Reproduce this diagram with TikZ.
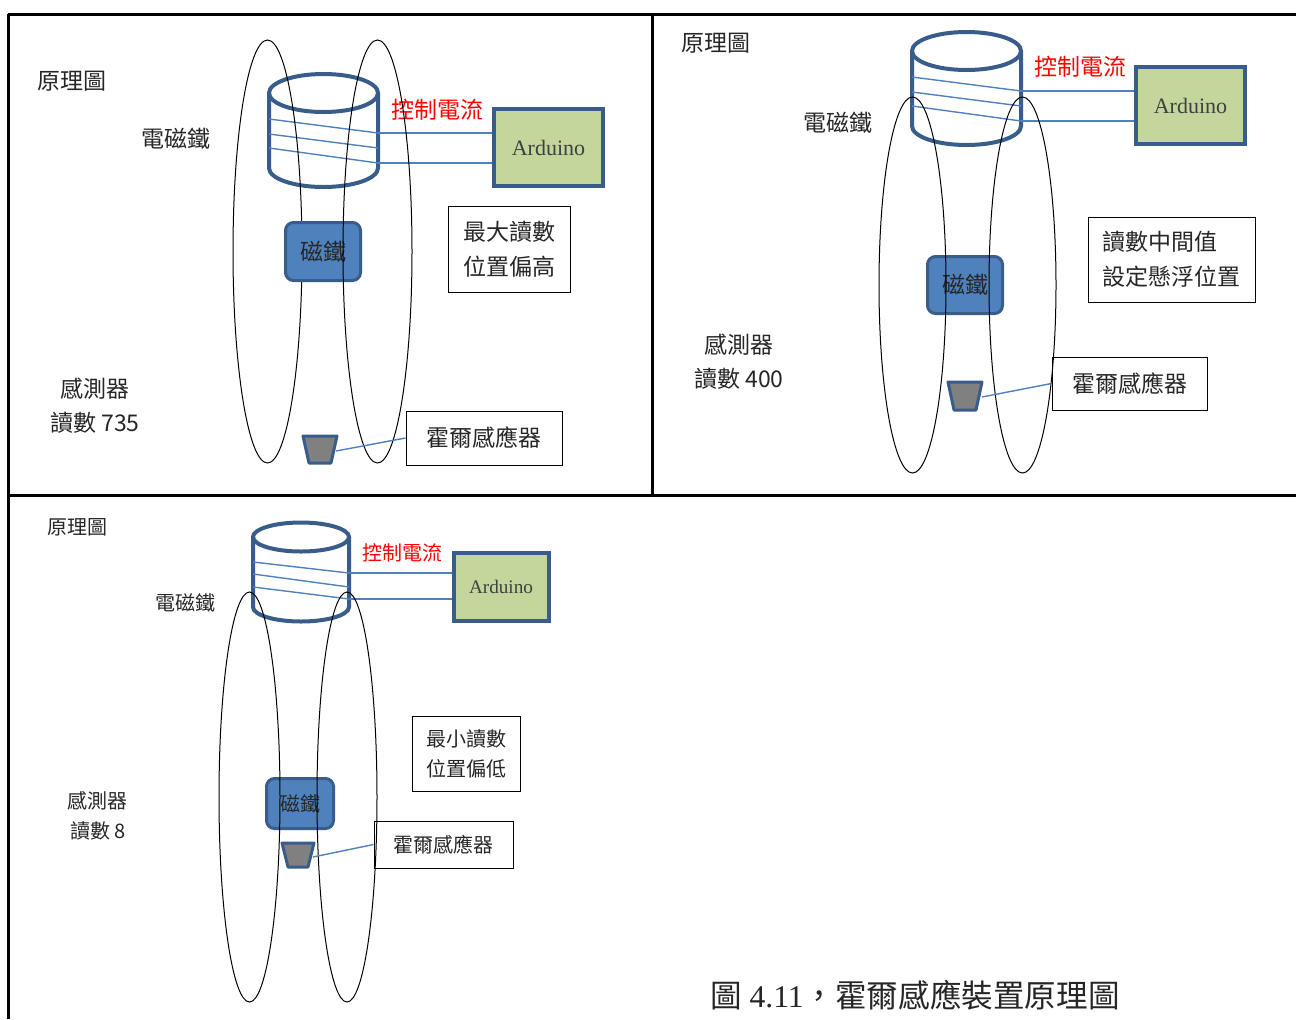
\documentclass[tikz,border=0pt]{standalone}
\usepackage{fontspec}
\setmainfont{Liberation Serif}
\newfontfamily\cjk{Noto Sans CJK TC}
\usepackage{tikz}
\definecolor{coilblue}{HTML}{4F81BD}
\definecolor{edgeblue}{HTML}{385D8A}
\definecolor{ardgreen}{HTML}{C3D69B}
\tikzstyle{frame} = [line width=1.5pt, draw=black]
\tikzstyle{field} = [line width=0.5pt, draw=black]
\tikzstyle{cyl} = [line width=2pt, draw=edgeblue]
\tikzstyle{coil} = [line width=0.7pt, draw=coilblue]
\tikzstyle{wire} = [line width=0.7pt, draw=coilblue]
\tikzstyle{ardbox} = [rectangle, draw=edgeblue, line width=2pt, fill=ardgreen, inner sep=0pt, text=black!75]
\tikzstyle{magnet} = [rectangle, rounded corners=4pt, draw=edgeblue, line width=1.5pt, fill=coilblue, inner sep=0pt, text=black!80]
\tikzstyle{infobox} = [rectangle, draw=black, line width=0.5pt, inner sep=0pt, align=left, text=black!80]
\tikzstyle{hallbox} = [rectangle, draw=black, line width=0.5pt, inner sep=0pt, text=black!80]
\tikzstyle{sensor} = [draw=edgeblue, line width=1.5pt, fill=gray, line join=round]
\tikzstyle{txtbig} = [font=\cjk\fontsize{11.5pt}{17.5pt}\selectfont, text=black!85]
\tikzstyle{txtsmall} = [font=\cjk\fontsize{10pt}{15pt}\selectfont, text=black!85]
\tikzstyle{ctrl} = [text=red]
\tikzstyle{ardbig} = [font=\fontsize{11pt}{13pt}\selectfont]
\tikzstyle{ardsmall} = [font=\fontsize{9.6pt}{12pt}\selectfont]

\begin{document}
\begin{tikzpicture}[x=0.5pt, y=0.5pt]
\useasboundingbox (0,0) rectangle (1296,-1019);

% page frame
\draw[frame] (8,-14) -- (1296,-14);
\draw[frame] (8,-14) -- (8,-1019);
\draw[frame] (652,-14) -- (652,-495);
\draw[frame] (8,-495) -- (1296,-495);

% ---------- max reading ----------
\node[txtbig] (title1) at (72,-81) {原理圖};
\node[txtbig] (em1) at (176,-139) {電磁鐵};
\draw[cyl] (323.5,-93) ellipse[x radius=54.5, y radius=19];
\draw[cyl] (269,-93) -- (269,-168) arc[start angle=180, end angle=360, x radius=54.5, y radius=19] -- (378,-93);
\draw[coil] (269,-119) -- (378,-133);
\draw[coil] (269,-134) -- (378,-148);
\draw[coil] (269,-148) -- (378,-163);
\coordinate (a1) at (378,-133);
\coordinate (b1) at (378,-163);
\node[ardbox, ardbig, minimum width=54.5pt, minimum height=38.5pt] (ard1) at (548.5,-147.5) {Arduino};
\draw[wire] (a1) -- (a1 -| ard1.west);
\draw[wire] (b1) -- (b1 -| ard1.west);
\node[txtbig, ctrl] (cur1) at (437,-110) {控制電流};
\draw[field] (267.5,-251.5) ellipse[x radius=34.5, y radius=211.5];
\node[magnet, txtbig, minimum width=37.5pt, minimum height=29pt] (mag1) at (323,-251.5) {磁鐵};
\draw[field] (377.5,-251.5) ellipse[x radius=34.5, y radius=211.5];
\node[infobox, txtbig, minimum width=61pt, minimum height=43pt] (info1) at (509,-249) {最大讀數\\位置偏高};
\node[txtbig] (sense1) at (95,-389) {感測器};
\node[txtbig] (read1) at (95,-423) {讀數 735};
\draw[sensor] (303,-436) -- (337,-436) -- (331,-463) -- (309,-463) -- cycle;
\coordinate (hs1) at (336,-451);
\node[hallbox, txtbig, minimum width=78pt, minimum height=27pt] (hall1) at (484,-438) {霍爾感應器\hspace{5pt}};
\draw[wire] (hs1) -- (hall1.west);

% ---------- middle reading ----------
\node[txtbig] (title2) at (716,-43) {原理圖};
\node[txtbig] (em2) at (838,-123) {電磁鐵};
\draw[cyl] (966.5,-51) ellipse[x radius=54.5, y radius=19];
\draw[cyl] (912,-51) -- (912,-126) arc[start angle=180, end angle=360, x radius=54.5, y radius=19] -- (1021,-51);
\draw[coil] (912,-77) -- (1021,-91);
\draw[coil] (912,-92) -- (1021,-106);
\draw[coil] (912,-106) -- (1021,-121);
\coordinate (a2) at (1021,-91);
\coordinate (b2) at (1021,-121);
\node[ardbox, ardbig, minimum width=54.5pt, minimum height=38.5pt] (ard2) at (1190.5,-105.5) {Arduino};
\draw[wire] (a2) -- (a2 -| ard2.west);
\draw[wire] (b2) -- (b2 -| ard2.west);
\node[txtbig, ctrl] (cur2) at (1080,-67) {控制電流};
\node[magnet, txtbig, minimum width=37.5pt, minimum height=28.5pt] (mag2) at (965,-285) {磁鐵};
\draw[field] (912.5,-285) ellipse[x radius=33.5, y radius=188];
\draw[field] (1022.5,-285) ellipse[x radius=33.5, y radius=188];
\node[infobox, txtbig, minimum width=83.5pt, minimum height=42.5pt] (info2) at (1171.5,-259.5) {讀數中間值\\設定懸浮位置};
\node[txtbig] (sense2) at (739,-345) {感測器};
\node[txtbig] (read2) at (739,-379) {讀數 400};
\draw[sensor] (948,-382) -- (982,-382) -- (976,-410) -- (954,-410) -- cycle;
\coordinate (hs2) at (982,-397);
\node[hallbox, txtbig, minimum width=77.5pt, minimum height=26.5pt] (hall2) at (1129.5,-383.5) {霍爾感應器\hspace{5pt}};
\draw[wire] (hs2) -- (hall2.west);

% ---------- min reading ----------
\node[txtsmall] (title3) at (77,-527) {原理圖};
\node[txtsmall] (em3) at (185,-603) {電磁鐵};
\draw[cyl] (301,-537) ellipse[x radius=48, y radius=14.5];
\draw[cyl] (253,-537) -- (253,-607) arc[start angle=180, end angle=360, x radius=48, y radius=14.5] -- (349,-537);
\draw[coil] (253,-562) -- (349,-573);
\draw[coil] (253,-574) -- (349,-587);
\draw[coil] (253,-587) -- (349,-599);
\coordinate (a3) at (349,-573);
\coordinate (b3) at (349,-599);
\node[ardbox, ardsmall, minimum width=47.5pt, minimum height=34pt] (ard3) at (501,-586.5) {Arduino};
\draw[wire] (a3) -- (a3 -| ard3.west);
\draw[wire] (b3) -- (b3 -| ard3.west);
\node[txtsmall, ctrl] (cur3) at (402,-553) {控制電流};
\node[magnet, txtsmall, minimum width=33.5pt, minimum height=25pt] (mag3) at (300,-803.5) {磁鐵};
\draw[field] (249.5,-797) ellipse[x radius=30.5, y radius=205];
\draw[field] (347,-797) ellipse[x radius=30, y radius=205];
\node[infobox, txtsmall, minimum width=54pt, minimum height=37.5pt] (info3) at (466,-753.5) {最小讀數\\位置偏低};
\node[txtsmall] (sense3) at (98,-801) {感測器};
\node[txtsmall] (read3) at (98,-831) {讀數 8};
\draw[sensor] (282,-843) -- (314,-843) -- (308,-867) -- (288,-867) -- cycle;
\coordinate (hs3) at (313,-857);
\node[hallbox, txtsmall, minimum width=69.5pt, minimum height=23.5pt] (hall3) at (443.5,-844.5) {霍爾感應器\hspace{5pt}};
\draw[wire] (hs3) -- (hall3.west);

% caption
\node[anchor=west, font=\fontsize{15.8pt}{18pt}\selectfont, text=black!85] (caption) at (703,-995) {{\cjk 圖} 4.11{\cjk ，霍爾感應裝置原理圖}};
\end{tikzpicture}
\end{document}
